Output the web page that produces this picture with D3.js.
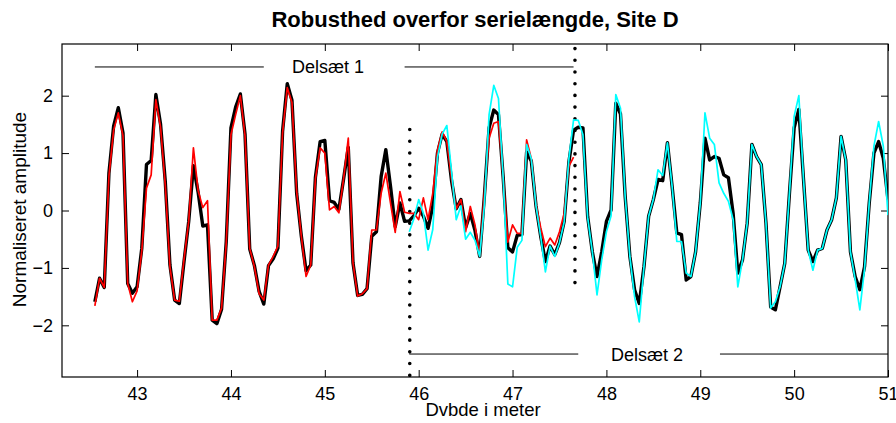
<!DOCTYPE html>
<html><head><meta charset="utf-8">
<script src="https://cdn.jsdelivr.net/npm/d3@7"></script>
<style>
body{margin:0;background:#fff}
svg{display:block;font-family:"Liberation Sans",Arial,Helvetica,sans-serif}
</style>
</head><body>
<svg id="chart" width="896" height="423"></svg>
<script>
// ---------------- data ----------------
const depth = [
 42.55,42.60,42.65,42.70,42.75,42.80,42.85,42.90,42.95,
 43.00,43.05,43.10,43.15,43.20,43.25,43.30,43.35,43.40,43.45,43.50,43.55,43.60,43.65,43.70,43.75,43.80,43.85,43.90,43.95,
 44.00,44.05,44.10,44.15,44.20,44.25,44.30,44.35,44.40,44.45,44.50,44.55,44.60,44.65,44.70,44.75,44.80,44.85,44.90,44.95,
 45.00,45.05,45.10,45.15,45.20,45.25,45.30,45.35,45.40,45.45,45.50,45.55,45.60,45.65,45.70,45.75,45.80,45.85,45.90,45.95,
 46.00,46.05,46.10,46.15,46.20,46.25,46.30,46.35,46.40,46.45,46.50,46.55,46.60,46.65,46.70,46.75,46.80,46.85,46.90,46.95,
 47.00,47.05,47.10,47.15,47.20,47.25,47.30,47.35,47.40,47.45,47.50,47.55,47.60,47.65,47.70,47.75,47.80,47.85,47.90,47.95,
 48.00,48.05,48.10,48.15,48.20,48.25,48.30,48.35,48.40,48.45,48.50,48.55,48.60,48.65,48.70,48.75,48.80,48.85,48.90,48.95,
 49.00,49.05,49.10,49.15,49.20,49.25,49.30,49.35,49.40,49.45,49.50,49.55,49.60,49.65,49.70,49.75,49.80,49.85,49.90,49.95,
 50.00,50.05,50.10,50.15,50.20,50.25,50.30,50.35,50.40,50.45,50.50,50.55,50.60,50.65,50.70,50.75,50.80,50.85,50.90,50.95,
 51.00
];

// full series (black)
const fullSeries = [
 -1.59,-1.18,-1.34,0.65,1.47,1.79,1.35,-1.27,-1.44,-1.33,
 -0.66,0.80,0.87,2.02,1.50,0.51,-0.95,-1.56,-1.62,-0.89,
 -0.19,0.78,0.32,-0.27,-0.25,-1.91,-1.97,-1.72,-0.54,1.44,
 1.80,2.03,1.33,-0.67,-0.96,-1.41,-1.63,-0.96,-0.84,-0.66,
 1.38,2.21,1.92,0.30,-0.45,-1.05,-0.95,0.58,1.20,1.22,
 0.17,0.14,0.02,0.55,1.10,-0.91,-1.48,-1.46,-1.36,-0.45,
 -0.37,0.59,1.06,0.42,-0.28,0.13,-0.19,-0.18,-0.09,0.04,
 -0.10,-0.31,0.07,1.00,1.33,1.20,0.52,0.03,0.19,-0.30,
 -0.05,-0.35,-0.80,0.25,1.44,1.75,1.67,0.58,-0.65,-0.72,
 -0.43,-0.42,1.02,0.86,0.08,-0.45,-0.89,-0.62,-0.77,-0.56,
 -0.19,0.84,1.40,1.45,1.44,-0.10,-0.72,-1.15,-0.72,-0.19,
 0.01,1.87,1.68,0.24,-0.80,-1.38,-1.62,-0.98,-0.10,0.19,
 0.54,0.52,1.18,0.42,-0.39,-0.42,-1.21,-1.15,-0.72,0.13,
 1.26,0.88,0.94,0.91,0.62,0.57,-0.05,-1.09,-0.86,-0.22,
 1.15,0.94,0.80,-0.22,-1.68,-1.73,-1.33,-0.92,0.30,1.44,
 1.76,0.54,-0.69,-0.89,-0.69,-0.66,-0.34,-0.16,0.22,1.29,
 0.88,-0.72,-1.15,-1.38,-0.98,0.13,1.00,1.20,0.91,0.19
];

// subset 1 (red): depths 42.55 .. 47.65
const subset1 = [
 -1.66,-1.18,-1.34,0.60,1.40,1.70,1.30,-1.27,-1.59,-1.40,
 -0.70,0.39,0.62,1.93,1.45,0.45,-0.98,-1.56,-1.58,-0.85,
 -0.19,1.09,0.35,0.05,0.17,-1.91,-1.91,-1.70,-0.56,1.32,
 1.67,2.00,1.30,-0.66,-0.98,-1.45,-1.56,-0.95,-0.80,-0.62,
 1.35,2.14,1.88,0.33,-0.45,-1.15,-0.95,0.55,1.09,1.00,
 0.01,0.07,-0.04,0.55,1.26,-0.91,-1.49,-1.45,-1.36,-0.34,
 -0.34,0.30,0.65,0.13,-0.38,0.33,-0.03,-0.05,-0.05,-0.16,
 0.22,-0.16,0.30,1.05,1.37,1.20,0.55,0.03,0.19,-0.37,
 0.07,-0.25,-0.80,0.30,1.26,1.52,1.55,0.58,-0.55,-0.25,
 -0.40,-0.40,1.23,0.90,0.10,-0.30,-0.63,-0.48,-0.60,-0.37,
 -0.05,0.77,0.93
];

// subset 2 (cyan): depths 45.90 .. 51.00
const subset2 = [
 -0.37,-0.14,0.19,-0.05,-0.69,-0.33,0.92,1.33,1.48,0.68,
 -0.16,0.08,-0.50,-0.38,-0.52,-0.80,0.10,1.67,2.18,1.95,
 0.58,-1.28,-1.33,-0.64,-0.52,1.15,0.90,0.08,-0.45,-1.07,
 -0.62,-0.80,-0.56,-0.20,0.90,1.58,1.57,1.32,-0.12,-0.72,
 -1.47,-0.86,-0.37,-0.09,2.02,1.78,0.24,-0.80,-1.50,-1.94,
 -0.98,-0.10,0.19,0.71,0.61,1.18,0.42,-0.54,-0.54,-1.09,
 -1.15,-0.72,0.13,1.70,1.26,1.15,0.48,0.30,0.16,-0.16,
 -1.33,-0.86,-0.22,1.15,0.94,0.80,-0.22,-1.70,-1.59,-1.33,
 -0.92,0.30,1.64,2.00,0.54,-0.69,-1.04,-0.69,-0.66,-0.34,
 -0.16,0.22,1.29,0.88,-0.72,-1.20,-1.73,-1.02,0.13,1.12,
 1.55,1.12,-0.08
];
const subset1Depth = depth.slice(0, subset1.length);
const subset2Depth = depth.slice(depth.length - subset2.length);

const xTicks = [43, 44, 45, 46, 47, 48, 49, 50, 51];
const yTicks = [-2, -1, 0, 1, 2];
const xDomain = [42.2, 51];
const yDomain = [-2.9, 2.9];

const titleText = "Robusthed overfor serielængde, Site D";
const xLabel = "Dvbde i meter";
const yLabel = "Normaliseret amplitude";

// dotted boundaries: [depth, yFrom, yTo]
const boundaries = [[47.665, 2.82, -1.42], [45.905, 1.41, -2.9]];
// subset range markers
const ranges = [
  {label: "Delsæt 1", y: 2.5, seg: [[42.55, 44.35], [45.85, 47.65]], labelX: 44.65},
  {label: "Delsæt 2", y: -2.5, seg: [[45.9, 47.70], [49.21, 51.0]], labelX: 48.05}
];

// ---------------- drawing ----------------
const svg = d3.select("#chart");
const L = 62, R = 888, T = 44, B = 377;
const x = d3.scaleLinear().domain(xDomain).range([L, R]);
const y = d3.scaleLinear().domain(yDomain).range([B, T]);

svg.append("rect").attr("width", 896).attr("height", 423).attr("fill", "#fff");

svg.append("clipPath").attr("id", "clip").append("rect")
  .attr("x", L).attr("y", T).attr("width", R - L).attr("height", B - T);

const fontSize = 18;
const tickLen = 7;

// axes
const axB = svg.append("g").attr("transform", `translate(0,${B})`)
  .call(d3.axisBottom(x).tickValues(xTicks).tickSizeInner(-tickLen).tickSizeOuter(0).tickPadding(10).tickFormat(d3.format("d")));
const axT = svg.append("g").attr("transform", `translate(0,${T})`)
  .call(d3.axisTop(x).tickValues(xTicks).tickSizeInner(-tickLen).tickSizeOuter(0).tickFormat(""));
const axL = svg.append("g").attr("transform", `translate(${L},0)`)
  .call(d3.axisLeft(y).tickValues(yTicks).tickSizeInner(-tickLen).tickSizeOuter(0).tickPadding(9).tickFormat(d3.format("d")));
const axR = svg.append("g").attr("transform", `translate(${R},0)`)
  .call(d3.axisRight(y).tickValues(yTicks).tickSizeInner(-tickLen).tickSizeOuter(0).tickFormat(""));
[axB, axT, axL, axR].forEach(g => {
  g.select(".domain").remove();
  g.selectAll("line").attr("stroke", "#000").attr("stroke-width", 1);
  g.selectAll("text").attr("fill", "#000").style("font-size", fontSize + "px")
    .style("font-family", '"Liberation Sans", Arial, sans-serif');
});
svg.append("rect").attr("x", L).attr("y", T).attr("width", R - L).attr("height", B - T)
  .attr("fill", "none").attr("stroke", "#000").attr("stroke-width", 1.2);

const plot = svg.append("g").attr("clip-path", "url(#clip)");

// dotted boundary lines
boundaries.forEach(b => {
  plot.append("line")
    .attr("x1", x(b[0])).attr("x2", x(b[0]))
    .attr("y1", y(b[1])).attr("y2", y(b[2]))
    .attr("stroke", "#000").attr("stroke-width", 3.6)
    .attr("stroke-linecap", "round").attr("stroke-dasharray", "0 11.7");
});

// range markers
ranges.forEach(r => {
  r.seg.forEach(s => {
    plot.append("line").attr("x1", x(s[0])).attr("x2", x(s[1]))
      .attr("y1", y(r.y)).attr("y2", y(r.y))
      .attr("stroke", "#000").attr("stroke-width", 1);
  });
  svg.append("text").attr("x", x(r.labelX)).attr("y", y(r.y) + 6.5)
    .attr("font-size", fontSize).attr("fill", "#000").text(r.label);
});

const line = d3.line().x(d => x(d[0])).y(d => y(d[1]));
plot.append("path").datum(d3.zip(depth, fullSeries)).attr("d", line)
  .attr("fill", "none").attr("stroke", "#000").attr("stroke-width", 3.4).attr("stroke-linejoin", "round");
plot.append("path").datum(d3.zip(subset1Depth, subset1)).attr("d", line)
  .attr("fill", "none").attr("stroke", "#ff0000").attr("stroke-width", 1.7).attr("stroke-linejoin", "round");
plot.append("path").datum(d3.zip(subset2Depth, subset2)).attr("d", line)
  .attr("fill", "none").attr("stroke", "#00ffff").attr("stroke-width", 1.7).attr("stroke-linejoin", "round");

// titles
svg.append("text").attr("x", (L + R) / 2).attr("y", 27).attr("text-anchor", "middle")
  .attr("font-size", 22).attr("font-weight", "bold").attr("fill", "#000").text(titleText);
svg.append("text").attr("x", (L + R) / 2 + 8).attr("y", 416).attr("text-anchor", "middle")
  .attr("font-size", 18.5).attr("fill", "#000").text(xLabel);
svg.append("text").attr("transform", `translate(26,${(T + B) / 2 - 1}) rotate(-90)`).attr("text-anchor", "middle")
  .attr("font-size", 19).attr("fill", "#000").text(yLabel);
</script>
</body></html>
